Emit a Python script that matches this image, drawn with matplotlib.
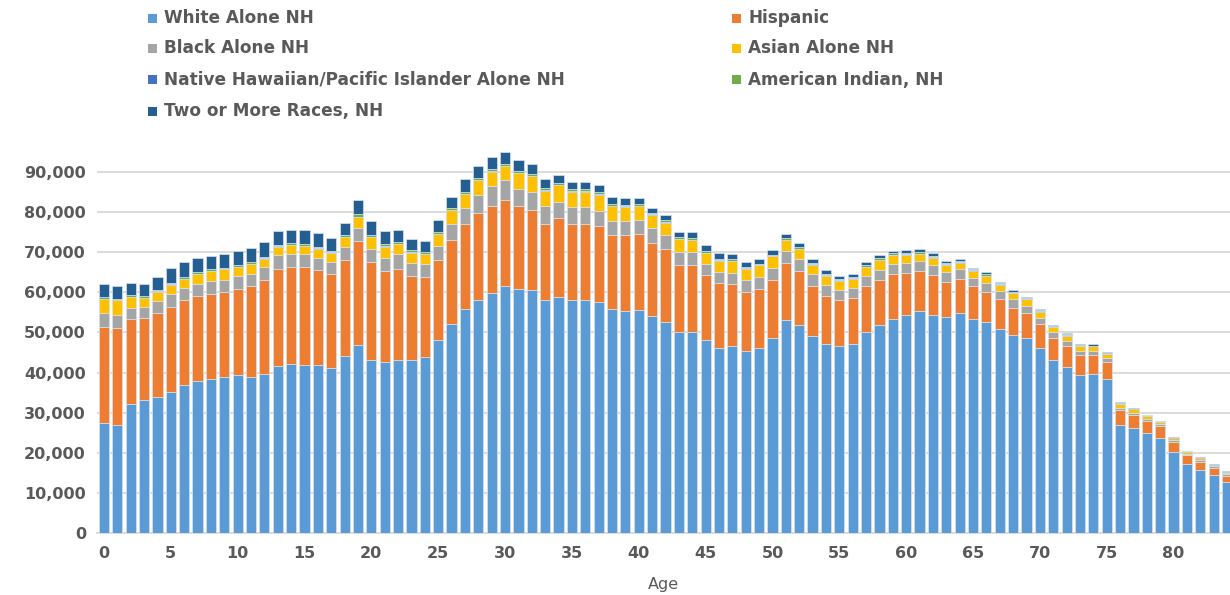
import matplotlib
matplotlib.use("Agg")
import matplotlib.pyplot as plt
from matplotlib.patches import Rectangle
from matplotlib.ticker import FuncFormatter, MultipleLocator
import numpy as np

ages = list(range(85))

# values in thousands of people
white = [27.4, 27.0, 32.1, 33.1, 34.0, 35.2, 37.0, 38.0, 38.4, 38.9,
         39.3, 39.0, 39.6, 41.6, 42.0, 41.8, 41.8, 41.1, 44.0, 46.9,
         43.2, 42.5, 43.2, 43.2, 43.9, 48.0, 52.1, 55.8, 58.1, 59.9,
         61.5, 60.8, 60.6, 58.1, 58.9, 58.1, 58.1, 57.6, 55.8, 55.3,
         55.5, 54.0, 52.5, 50.2, 50.0, 48.0, 46.1, 46.5, 45.4, 46.0,
         48.7, 53.2, 51.9, 49.1, 47.1, 46.6, 47.1, 50.0, 51.9, 53.4,
         54.4, 55.3, 54.4, 53.9, 54.8, 53.4, 52.5, 50.9, 49.4, 48.5,
         46.2, 43.1, 41.4, 39.5, 39.7, 38.4, 26.9, 26.1, 24.8, 23.8,
         20.1, 17.2, 15.7, 14.4, 12.8]
hispanic = [24.0, 24.1, 21.3, 20.5, 20.9, 21.2, 21.1, 21.1, 21.2, 21.1,
            21.5, 22.6, 23.5, 24.3, 24.3, 24.5, 23.7, 23.4, 24.0, 26.0,
            24.4, 22.8, 22.7, 20.8, 19.9, 20.0, 21.0, 21.2, 21.6, 21.7,
            21.5, 20.6, 19.8, 19.0, 19.6, 19.0, 19.0, 18.9, 18.4, 18.9,
            18.9, 18.3, 18.3, 16.7, 16.9, 16.2, 16.3, 15.6, 14.7, 14.8,
            14.4, 14.2, 13.4, 12.5, 12.0, 11.5, 11.4, 11.5, 11.1, 11.1,
            10.5, 10.0, 9.9, 8.7, 8.6, 8.1, 7.6, 7.4, 6.8, 6.4,
            5.9, 5.4, 5.1, 4.8, 4.6, 4.2, 3.7, 3.2, 3.0, 2.8,
            2.5, 2.2, 2.0, 1.8, 1.5]
black = [3.5, 3.3, 2.7, 2.7, 3.0, 3.2, 2.9, 3.0, 3.1, 3.0,
         3.2, 3.0, 3.2, 3.4, 3.2, 3.2, 3.1, 3.0, 3.2, 3.1,
         3.3, 3.3, 3.6, 3.4, 3.2, 3.6, 4.0, 4.1, 4.6, 4.8,
         4.9, 4.4, 4.5, 4.3, 4.1, 4.1, 4.1, 3.8, 3.5, 3.5,
         3.6, 3.6, 3.4, 3.2, 3.2, 2.9, 2.6, 2.8, 2.9, 3.0,
         2.9, 2.9, 3.0, 2.9, 2.7, 2.5, 2.5, 2.5, 2.6, 2.5,
         2.5, 2.6, 2.5, 2.4, 2.3, 2.0, 2.3, 1.9, 2.0, 1.7,
         1.5, 1.5, 1.4, 1.1, 1.1, 0.9, 0.6, 0.7, 0.6, 0.6,
         0.5, 0.4, 0.4, 0.4, 0.4]
asian = [3.4, 3.6, 2.6, 2.2, 2.2, 2.3, 2.3, 2.4, 2.6, 2.7,
         2.3, 2.4, 2.1, 2.0, 2.2, 2.0, 2.3, 2.3, 2.5, 2.7,
         2.8, 2.8, 2.5, 2.5, 2.5, 2.8, 3.3, 3.3, 3.6, 3.6,
         3.5, 3.8, 4.0, 3.9, 4.1, 3.8, 3.8, 4.0, 3.7, 3.6,
         3.5, 3.4, 3.1, 3.1, 2.9, 2.7, 2.9, 2.9, 2.9, 2.9,
         3.0, 2.7, 2.5, 2.4, 2.3, 2.3, 2.4, 2.3, 2.4, 2.2,
         2.0, 1.6, 1.8, 1.9, 1.7, 1.9, 1.7, 1.7, 1.5, 1.6,
         1.6, 1.4, 1.3, 1.2, 1.1, 1.1, 1.0, 0.8, 0.8, 0.5,
         0.5, 0.4, 0.5, 0.3, 0.3]
nhpi = [0.12, 0.12, 0.12, 0.12, 0.12, 0.12, 0.12, 0.12, 0.12, 0.12,
        0.12, 0.12, 0.12, 0.12, 0.12, 0.12, 0.12, 0.12, 0.12, 0.15,
        0.15, 0.15, 0.15, 0.15, 0.15, 0.15, 0.15, 0.15, 0.15, 0.15,
        0.15, 0.15, 0.15, 0.15, 0.12, 0.12, 0.12, 0.12, 0.12, 0.12,
        0.12, 0.1, 0.1, 0.1, 0.1, 0.1, 0.1, 0.1, 0.1, 0.1,
        0.1, 0.1, 0.1, 0.1, 0.1, 0.08, 0.08, 0.08, 0.08, 0.08,
        0.08, 0.08, 0.08, 0.08, 0.08, 0.06, 0.06, 0.06, 0.06, 0.06,
        0.05, 0.05, 0.05, 0.05, 0.05, 0.04, 0.04, 0.04, 0.03, 0.03,
        0.03, 0.03, 0.02, 0.02, 0.02]
amind = [0.35, 0.25, 0.4, 0.35, 0.4, 0.35, 0.35, 0.4, 0.35, 0.35,
         0.35, 0.35, 0.35, 0.35, 0.4, 0.35, 0.35, 0.4, 0.4, 0.6,
         0.4, 0.4, 0.45, 0.4, 0.3, 0.45, 0.45, 0.45, 0.45, 0.45,
         0.45, 0.55, 0.45, 0.45, 0.4, 0.55, 0.55, 0.45, 0.55, 0.45,
         0.45, 0.4, 0.6, 0.4, 0.4, 0.5, 0.4, 0.4, 0.4, 0.3,
         0.3, 0.4, 0.4, 0.4, 0.4, 0.4, 0.4, 0.4, 0.4, 0.4,
         0.4, 0.4, 0.3, 0.3, 0.4, 0.3, 0.3, 0.3, 0.3, 0.3,
         0.25, 0.25, 0.25, 0.25, 0.15, 0.15, 0.15, 0.15, 0.08, 0.08,
         0.15, 0.15, 0.08, 0.15, 0.15]
two_more = [3.4, 3.3, 3.1, 3.2, 3.2, 3.6, 3.7, 3.4, 3.3, 3.4,
            3.4, 3.5, 3.6, 3.5, 3.4, 3.5, 3.3, 3.1, 3.1, 3.5,
            3.5, 3.3, 3.0, 2.8, 2.9, 2.9, 2.8, 3.3, 3.0, 3.0,
            2.9, 2.7, 2.5, 2.3, 2.0, 1.8, 1.8, 1.8, 1.7, 1.5,
            1.5, 1.3, 1.2, 1.3, 1.5, 1.4, 1.4, 1.2, 1.2, 1.1,
            1.1, 1.1, 0.9, 1.0, 0.9, 0.6, 0.6, 0.8, 0.8, 0.6,
            0.6, 0.7, 0.7, 0.5, 0.5, 0.4, 0.5, 0.4, 0.4, 0.3,
            0.3, 0.2, 0.3, 0.2, 0.3, 0.2, 0.2, 0.2, 0.2, 0.2,
            0.1, 0.1, 0.2, 0.1, 0.2]

series_names = ["White Alone NH", "Hispanic", "Black Alone NH", "Asian Alone NH",
                "Native Hawaiian/Pacific Islander Alone NH", "American Indian, NH",
                "Two or More Races, NH"]
series_vals = [white, hispanic, black, asian, nhpi, amind, two_more]
colors = ["#5B9BD5", "#ED7D31", "#A5A5A5", "#FFC000", "#4472C4", "#70AD47", "#255E91"]

TXT = "#595959"
plt.rcParams['font.family'] = ['DejaVu Sans']

fig = plt.figure(figsize=(12.3, 5.95), dpi=100)
ax = fig.add_axes([97/1230, 62/595, 1 - 97/1230, (533 - 143)/595])

x = np.array(ages)
bottom = np.zeros(len(ages))
for name, vals, c in zip(series_names, series_vals, colors):
    v = np.array(vals) * 1000
    ax.bar(x, v, bottom=bottom, width=0.76, color=c, edgecolor="#d6e2ee",
           linewidth=0.5, zorder=3, label=name)
    bottom += v

ax.set_xlim(-0.52, 84.22)
ax.set_ylim(0, 97200)
ax.yaxis.set_major_locator(MultipleLocator(10000))
ax.yaxis.set_major_formatter(FuncFormatter(lambda v, p: f"{int(v):,}"))
ax.set_xticks(list(range(0, 85, 5)))
ax.grid(axis="y", color="#D9D9D9", linewidth=1.3, zorder=0)
for s in ["top", "right", "left"]:
    ax.spines[s].set_visible(False)
ax.spines["bottom"].set_color("#D9D9D9")
ax.spines["bottom"].set_linewidth(1.3)
ax.tick_params(axis="both", length=0, colors=TXT, labelsize=11.5)
ax.tick_params(axis="y", pad=8)
ax.tick_params(axis="x", pad=9)
for lab in ax.get_xticklabels() + ax.get_yticklabels():
    lab.set_fontweight("bold")
ax.set_xlabel("Age", color=TXT, fontsize=11.5, labelpad=12)

# legend (two columns, row-major order)
pos = [(152, 18), (736, 18), (152, 48), (736, 48), (152, 80), (736, 80), (152, 111)]
for (px, py), name, c in zip(pos, series_names, colors):
    fig.patches.append(Rectangle(((px - 4.5) / 1230, 1 - (py + 4.5) / 595), 9 / 1230, 9 / 595,
                                 transform=fig.transFigure, facecolor=c, edgecolor="none"))
    fig.text((px + 12) / 1230, 1 - py / 595, name, color=TXT, fontsize=12.2,
             fontweight="bold", va="center", ha="left")

fig.savefig("out.png", dpi=100)
